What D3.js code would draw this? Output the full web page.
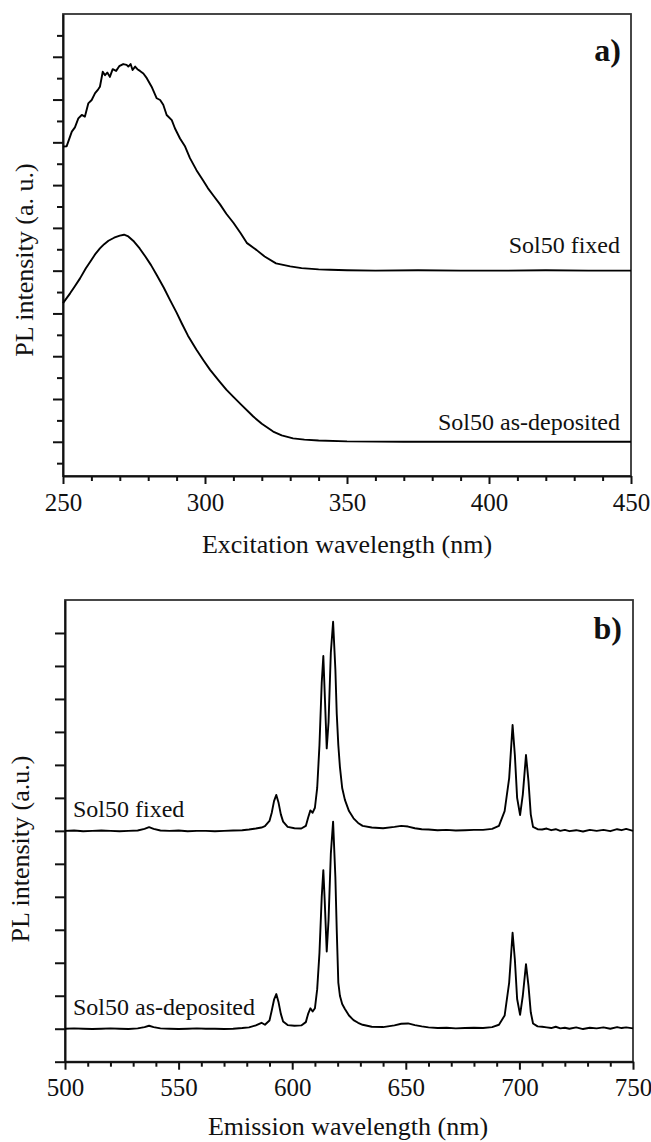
<!DOCTYPE html>
<html>
<head>
<meta charset="utf-8">
<script src="https://cdn.jsdelivr.net/npm/d3@7"></script>
<style>
  body { margin: 0; background: #fff; }
  svg { display: block; font-family: "Liberation Serif", "Times New Roman", serif; }
</style>
</head>
<body>
<svg id="chart" width="651" height="1142"></svg>
<script>
// a) excitation spectra
const excFixedWl = [250, 251.3, 253.1, 254.2, 255.4, 256.6, 257.7, 258.9, 260.1, 261.3,
  262.4, 263.0, 264.0, 264.8, 265.6, 266.5, 267.5, 268.7, 269.8, 271.2,
  272.4, 273.0, 273.8, 274.5, 275.4, 276.2, 277.1, 278.3, 279.5, 281.2,
  283.0, 284.2, 285.3, 286.5, 288.3, 289.4, 291.2, 293.0, 294.7, 297,
  299.4, 301, 303, 305.3, 307.5, 310, 312.5, 314.7, 318.2, 321,
  325, 330, 334, 340, 344, 350, 360, 375, 390, 405,
  420, 435, 450];
const excFixedI = [7.90, 7.91, 8.25, 8.35, 8.56, 8.64, 8.60, 8.91, 8.99, 9.15,
  9.24, 9.30, 9.65, 9.57, 9.63, 9.53, 9.71, 9.67, 9.78, 9.83,
  9.81, 9.77, 9.83, 9.69, 9.77, 9.71, 9.67, 9.61, 9.50, 9.30,
  9.03, 8.99, 8.88, 8.64, 8.52, 8.33, 8.09, 7.90, 7.63, 7.35,
  7.10, 6.93, 6.75, 6.55, 6.33, 6.12, 5.88, 5.65, 5.48, 5.33,
  5.17, 5.10, 5.06, 5.03, 5.02, 5.01, 5.00, 5.01, 5.00, 5.00,
  5.01, 5.00, 5.00];

const excAsDepWl = [250, 252.5, 254, 256, 258, 260, 261.5, 263, 264.5, 266,
  268, 270, 271.5, 273, 275, 277, 279, 281, 283, 285.5,
  287.7, 290, 291.8, 294, 297, 299.5, 301.8, 305, 307.5, 310,
  313, 317, 320, 324, 327, 331, 335, 340, 350, 370,
  400, 425, 450];
const excAsDepI = [4.24, 4.47, 4.62, 4.82, 5.05, 5.25, 5.40, 5.52, 5.62, 5.70,
  5.77, 5.82, 5.84, 5.80, 5.68, 5.52, 5.33, 5.13, 4.90, 4.60,
  4.31, 4.02, 3.77, 3.48, 3.15, 2.90, 2.68, 2.42, 2.22, 2.05,
  1.85, 1.59, 1.42, 1.24, 1.15, 1.08, 1.05, 1.03, 1.01, 1.00,
  1.00, 1.00, 1.00];

// b) emission spectra (shared wavelengths)
const emWl = [500, 504, 508, 512, 516, 520, 524, 528, 532, 535,
  537, 539, 542, 546, 550, 554, 558, 562, 566, 570,
  574, 578, 581, 584, 586.5, 588, 590, 591, 592, 593,
  594, 595, 596, 598, 601, 604, 606, 607, 608, 609,
  610, 611, 612, 613, 613.7, 614.3, 615.2, 616, 617, 618,
  619, 619.6, 620.3, 621, 622, 623.2, 625, 627, 629, 631,
  635, 640, 645, 648, 651, 654, 657, 660, 664, 668,
  672, 676, 680, 684, 688, 691, 693.5, 695.5, 697, 698,
  699, 700.3, 701.5, 702.9, 704, 705, 706, 708, 710, 712,
  714, 716, 718, 720, 722, 725, 728, 731, 734, 737,
  740, 743, 745, 747, 750];
const emFixedI = [7.00, 7.01, 6.99, 7.00, 7.01, 7.00, 6.99, 7.00, 7.01, 7.06,
  7.11, 7.06, 7.01, 7.00, 7.01, 6.99, 7.00, 7.00, 6.99, 7.00,
  7.01, 7.02, 7.04, 7.07, 7.10, 7.14, 7.30, 7.55, 7.90, 8.09,
  7.85, 7.50, 7.28, 7.12, 7.08, 7.07, 7.15, 7.40, 7.62, 7.55,
  7.70, 8.30, 9.60, 11.50, 12.30, 11.20, 9.50, 10.30, 12.40, 13.34,
  11.90, 10.56, 9.60, 8.94, 8.30, 7.94, 7.60, 7.38, 7.24, 7.15,
  7.10, 7.08, 7.12, 7.15, 7.13, 7.08, 7.05, 7.04, 7.02, 7.03,
  7.01, 7.02, 7.03, 7.03, 7.06, 7.15, 7.60, 8.60, 10.21, 9.30,
  8.00, 7.48, 8.10, 9.30, 8.50, 7.50, 7.12, 7.05, 7.04, 7.07,
  7.02, 7.05, 7.00, 7.03, 6.99, 7.02, 6.98, 7.03, 7.00, 7.03,
  6.99, 7.05, 7.02, 7.06, 7.00];
const emAsDepI = [1.00, 1.01, 1.00, 0.99, 1.00, 1.01, 1.00, 0.99, 1.01, 1.05,
  1.09, 1.05, 1.01, 1.00, 0.99, 1.00, 1.01, 1.00, 1.00, 0.99,
  1.00, 1.02, 1.04, 1.10, 1.18, 1.12, 1.25, 1.55, 1.88, 2.05,
  1.80, 1.45, 1.22, 1.11, 1.09, 1.10, 1.20, 1.45, 1.62, 1.52,
  1.62, 2.20, 3.30, 5.00, 5.81, 4.90, 3.34, 4.30, 6.30, 7.28,
  5.60, 4.00, 2.40, 2.00, 1.75, 1.60, 1.40, 1.26, 1.18, 1.12,
  1.06, 1.05, 1.10, 1.15, 1.16, 1.11, 1.07, 1.04, 1.02, 1.03,
  1.01, 1.02, 1.03, 1.02, 1.05, 1.12, 1.40, 2.40, 3.91, 3.10,
  1.90, 1.42, 2.00, 2.96, 2.30, 1.50, 1.16, 1.07, 1.06, 1.04,
  1.02, 1.06, 1.01, 1.03, 1.00, 1.04, 0.99, 1.03, 1.01, 1.04,
  1.00, 1.05, 1.02, 1.04, 1.01];

const excXTicks = [250, 300, 350, 400, 450];
const emXTicks = [500, 550, 600, 650, 700, 750];

const svg = d3.select("#chart");
const ink = "#111";

const toPoints = (xs, ys) => xs.map((x, i) => [x, ys[i]]).filter(d => d[1] != null);

function panel({ left, right, top, bottom, xDomain, yDomain, xTicks, xMinorStep,
  yMajor, yMinor, yMajorSize, yMinorSize }) {
  const x = d3.scaleLinear().domain(xDomain).range([left, right]);
  const y = d3.scaleLinear().domain(yDomain).range([bottom, top]);

  const g = svg.append("g");

  g.append("rect")
    .attr("x", left)
    .attr("y", top)
    .attr("width", right - left)
    .attr("height", bottom - top)
    .attr("fill", "none")
    .attr("stroke", "#333")
    .attr("stroke-width", 1.8);

  const minorX = d3.range(xDomain[0], xDomain[1], xMinorStep)
    .filter(v => !xTicks.includes(v));

  g.append("g")
    .attr("transform", `translate(0,${bottom})`)
    .call(d3.axisBottom(x).tickValues(minorX).tickSize(5).tickFormat(""))
    .call(a => a.select(".domain").remove());

  const xAxis = g.append("g")
    .attr("transform", `translate(0,${bottom})`)
    .call(d3.axisBottom(x).tickValues(xTicks).tickSize(8).tickSizeOuter(0).tickPadding(9));

  xAxis.selectAll("text")
    .attr("fill", ink)
    .style("font-size", "25px")
    .style("font-family", "'Liberation Serif', serif");

  g.append("g")
    .attr("transform", `translate(${left},0)`)
    .call(d3.axisLeft(y).tickValues(yMinor).tickSize(yMinorSize).tickFormat(""))
    .call(a => a.select(".domain").remove());

  g.append("g")
    .attr("transform", `translate(${left},0)`)
    .call(d3.axisLeft(y).tickValues(yMajor).tickSize(yMajorSize).tickSizeOuter(0).tickFormat(""));

  g.selectAll(".domain, .tick line")
    .attr("stroke", ink)
    .attr("stroke-width", 2);

  return { g, x, y };
}

function drawCurve(p, xs, ys) {
  const line = d3.line()
    .x(d => p.x(d[0]))
    .y(d => p.y(d[1]));
  p.g.append("path")
    .datum(toPoints(xs, ys))
    .attr("d", line)
    .attr("fill", "none")
    .attr("stroke", "#000")
    .attr("stroke-width", 1.9)
    .attr("stroke-linejoin", "round");
}

function label(text, x, y, opts = {}) {
  return svg.append("text")
    .text(text)
    .attr("x", x)
    .attr("y", y)
    .attr("fill", ink)
    .attr("text-anchor", opts.anchor || "start")
    .style("font-size", `${opts.size || 24}px`)
    .style("font-weight", opts.bold ? "bold" : "normal");
}

// panel a
const pa = panel({
  left: 63, right: 631, top: 14, bottom: 476,
  xDomain: [250, 450], yDomain: [0.2, 11.0],
  xTicks: excXTicks, xMinorStep: 10,
  yMajor: d3.range(1, 11), yMinor: d3.range(0.5, 11, 1),
  yMajorSize: 10, yMinorSize: 6,
});
drawCurve(pa, excFixedWl, excFixedI);
drawCurve(pa, excAsDepWl, excAsDepI);

label("a)", 621, 61, { anchor: "end", size: 32, bold: true });
label("Sol50 fixed", 620, 253, { anchor: "end" });
label("Sol50 as-deposited", 620, 430, { anchor: "end" });
label("Excitation wavelength (nm)", 347, 553, { anchor: "middle", size: 26 });
label("PL intensity (a. u.)", 0, 0, { anchor: "middle", size: 26 })
  .attr("transform", "translate(33,260) rotate(-90)");

// panel b
const pb = panel({
  left: 65, right: 633, top: 600, bottom: 1061.7,
  xDomain: [500, 750], yDomain: [0, 14],
  xTicks: emXTicks, xMinorStep: 10,
  yMajor: d3.range(0, 14), yMinor: [],
  yMajorSize: 10, yMinorSize: 0,
});
drawCurve(pb, emWl, emFixedI);
drawCurve(pb, emWl, emAsDepI);

label("b)", 622, 639, { anchor: "end", size: 32, bold: true });
label("Sol50 fixed", 73, 817);
label("Sol50 as-deposited", 73, 1015);
label("Emission wavelength (nm)", 348, 1135, { anchor: "middle", size: 26 });
label("PL intensity (a.u.)", 0, 0, { anchor: "middle", size: 26 })
  .attr("transform", "translate(29,849) rotate(-90)");
</script>
</body>
</html>
